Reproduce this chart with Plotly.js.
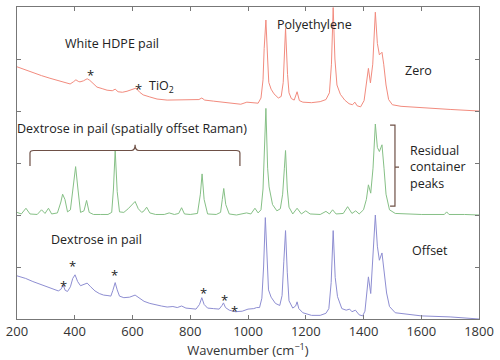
<!DOCTYPE html>
<html>
<head>
<meta charset="utf-8">
<script src="https://cdn.plot.ly/plotly-3.0.1.min.js"></script>
<style>html,body{margin:0;padding:0;background:#fff;}#chart{width:500px;height:360px;}</style>
</head>
<body>
<div id="chart"></div>
<script>
// Wavenumber axis ticks
const xTicks = [200, 400, 600, 800, 1000, 1200, 1400, 1600, 1800];

// Spectrum "Zero" (white HDPE pail) - red
const zeroW = [200,230,255,285,314,345,373,384,395,404,412,418,430,443,452,465,477,495,512,530,540,550,565,581,598,612,625,637,660,685,720,750,775,800,830,840,850,880,910,948,975,996,1020,1035,1045,1052,1056,1062,1068,1072,1080,1090,1105,1115,1122,1130,1137,1142,1150,1160,1170,1178,1190,1220,1250,1270,1282,1289,1295,1301,1308,1320,1335,1350,1362,1370,1378,1390,1402,1410,1417,1424,1432,1441,1448,1455,1464,1470,1478,1487,1500,1530,1600,1700,1800];
const zeroI = [4.85,4.79,4.73,4.68,4.63,4.58,4.54,4.52,4.56,4.60,4.57,4.56,4.58,4.62,4.59,4.52,4.46,4.43,4.40,4.39,4.42,4.37,4.36,4.38,4.41,4.44,4.36,4.31,4.27,4.23,4.21,4.21,4.21,4.22,4.22,4.25,4.21,4.19,4.17,4.15,4.13,4.17,4.15,4.15,4.25,4.6,5.2,5.75,5.0,4.55,4.42,4.33,4.25,4.28,4.55,5.59,4.7,4.35,4.24,4.21,4.37,4.2,4.17,4.16,4.18,4.22,4.35,4.9,5.99,5.0,4.5,4.32,4.21,4.14,4.12,4.17,4.1,4.08,4.2,4.5,4.82,4.54,4.9,5.9,5.3,5.08,5.13,4.9,4.5,4.22,4.12,4.09,4.06,4.03,4.0];

// Spectrum "Residual" (spatially offset, dextrose in pail) - green
const midW = [200,215,231,245,270,285,297,309,320,340,352,358,366,375,385,395,403,411,420,432,441,450,465,490,515,528,534,540,547,555,570,585,600,609,620,632,640,649,660,680,710,727,745,760,770,780,800,825,835,841,848,860,890,905,911,916,923,935,960,995,1010,1024,1035,1045,1052,1056,1062,1068,1073,1085,1100,1112,1120,1126,1130,1136,1142,1155,1170,1185,1200,1215,1250,1270,1282,1293,1305,1330,1345,1360,1373,1385,1400,1410,1417,1425,1433,1441,1448,1455,1464,1471,1478,1490,1510,1600,1680,1688,1696,1750,1800];
const midI = [2.05,2.02,2.13,2.02,2.01,2.10,2.03,2.13,2.02,2.04,2.25,2.40,2.30,2.06,2.1,2.55,2.93,2.5,2.05,2.08,2.28,2.05,2.01,2.01,2.01,2.05,2.5,3.25,2.45,2.06,2.05,2.12,2.22,2.26,2.12,2.05,2.08,2.15,2.04,2.01,2.01,2.04,2.01,2.03,2.14,2.02,2.01,2.03,2.4,2.79,2.3,2.02,2.01,2.05,2.3,2.51,2.2,2.02,2.0,2.04,2.02,2.13,2.04,2.1,2.5,3.2,4.05,2.9,2.54,2.2,2.08,2.12,2.4,2.9,3.24,2.5,2.15,2.02,2.13,2.02,2.08,2.02,2.01,2.07,2.02,2.1,2.02,2.03,2.16,2.03,2.08,2.02,2.1,2.3,2.58,2.42,2.9,3.75,3.3,3.22,3.35,2.9,2.4,2.1,2.03,2.01,2.01,2.06,2.01,2.01,2.0];

// Spectrum "Offset" (dextrose in pail) - blue
const offW = [200,230,255,280,303,325,343,352,360,367,375,385,393,401,410,420,430,443,455,470,485,500,515,525,532,540,547,555,570,590,609,625,640,660,680,700,720,740,755,770,785,800,820,832,840,848,860,880,900,910,915,922,935,956,980,1000,1020,1030,1040,1048,1054,1060,1066,1071,1080,1095,1110,1118,1124,1130,1136,1142,1155,1165,1170,1176,1190,1220,1250,1270,1280,1288,1295,1302,1310,1325,1340,1352,1360,1372,1385,1397,1405,1412,1417,1425,1433,1441,1448,1455,1464,1471,1480,1490,1510,1600,1700,1800];
const offI = [0.83,0.78,0.72,0.67,0.62,0.58,0.54,0.57,0.65,0.55,0.53,0.62,0.78,0.85,0.72,0.64,0.66,0.69,0.62,0.54,0.49,0.46,0.45,0.44,0.55,0.70,0.56,0.44,0.41,0.42,0.46,0.40,0.34,0.30,0.27,0.25,0.23,0.24,0.22,0.25,0.21,0.20,0.19,0.28,0.41,0.28,0.21,0.20,0.19,0.26,0.31,0.22,0.17,0.14,0.15,0.19,0.2,0.22,0.22,0.4,1.0,1.95,1.1,0.56,0.42,0.30,0.26,0.45,1.1,1.70,0.9,0.35,0.21,0.25,0.33,0.2,0.12,0.07,0.07,0.11,0.2,0.7,1.70,0.8,0.43,0.2,0.17,0.19,0.14,0.17,0.08,0.06,0.15,0.5,0.81,0.49,1.2,2.0,1.4,1.13,1.27,0.95,0.5,0.24,0.12,0.06,0.04,0.0];

const font = "'Open Sans', 'Noto Sans', sans-serif";
const traces = [
  {x: zeroW, y: zeroI, mode: 'lines', line: {color: '#f28b7e', width: 1}, hoverinfo: 'skip'},
  {x: midW, y: midI, mode: 'lines', line: {color: '#86c086', width: 1}, hoverinfo: 'skip'},
  {x: offW, y: offI, mode: 'lines', line: {color: '#8e8ed2', width: 1}, hoverinfo: 'skip'}
];

function txt(x, y, text, size, opts) {
  return Object.assign({x: x, y: y, xref: 'x', yref: 'y', text: text, showarrow: false,
    font: {family: font, size: size, color: '#222'}}, opts || {});
}
const annotations = [
  txt(529, 5.29, 'White HDPE pail', 12.5),
  txt(456, 4.70, '*', 13),
  txt(622, 4.42, '*', 13),
  txt(700, 4.48, 'TiO<sub>2</sub>', 12.5),
  txt(1232, 5.67, 'Polyethylene', 12.5),
  txt(1589, 4.77, 'Zero', 12.5),
  txt(598, 3.67, 'Dextrose in pail (spatially offset Raman)', 12.5),
  txt(1554, 2.92, 'Residual<br>container<br>peaks', 12.5, {xanchor: 'left', align: 'left'}),
  txt(474, 1.52, 'Dextrose in pail', 12.5),
  txt(1630, 1.31, 'Offset', 12.5),
  txt(360, 0.63, '*', 13),
  txt(393, 1.01, '*', 13),
  txt(537, 0.85, '*', 13),
  txt(845, 0.50, '*', 13),
  txt(917, 0.36, '*', 13),
  txt(953, 0.16, '*', 13)
];

const bracketColor = '#6e5046';
const shapes = [
  {type: 'path', xref: 'x', yref: 'y',
   path: 'M 245,2.94 L 245,3.19 Q 245,3.24 258,3.24 L 596,3.24 Q 609,3.24 609,3.35 Q 609,3.24 622,3.24 L 959,3.24 Q 972,3.24 972,3.19 L 972,2.94',
   line: {color: bracketColor, width: 1.2}},
  {type: 'path', xref: 'x', yref: 'y',
   path: 'M 1492,3.73 L 1509,3.73 L 1509,2.17 L 1492,2.17 M 1509,2.92 L 1523,2.92',
   line: {color: bracketColor, width: 1.2}}
];

const layout = {
  width: 500, height: 360,
  margin: {l: 17, r: 21, t: 7, b: 41},
  paper_bgcolor: '#fff', plot_bgcolor: '#fff',
  showlegend: false,
  xaxis: {
    range: [200, 1800], tickvals: xTicks, ticktext: xTicks.map(String),
    ticks: 'inside', ticklen: 4, tickcolor: '#777', showline: true, linecolor: '#777', linewidth: 1,
    mirror: 'ticks', showgrid: false, zeroline: false,
    tickfont: {family: font, size: 13, color: '#333'},
    title: {text: 'Wavenumber (cm<sup>−1</sup>)', font: {family: font, size: 13, color: '#333'}, standoff: 1}
  },
  yaxis: {
    range: [0, 6], dtick: 1, tick0: 0, showticklabels: false,
    ticks: 'inside', ticklen: 4, tickcolor: '#777', showline: true, linecolor: '#777', linewidth: 1,
    mirror: 'ticks', showgrid: false, zeroline: false
  },
  annotations: annotations,
  shapes: shapes
};
Plotly.newPlot('chart', traces, layout, {staticPlot: true, displayModeBar: false});
</script>
</body>
</html>
